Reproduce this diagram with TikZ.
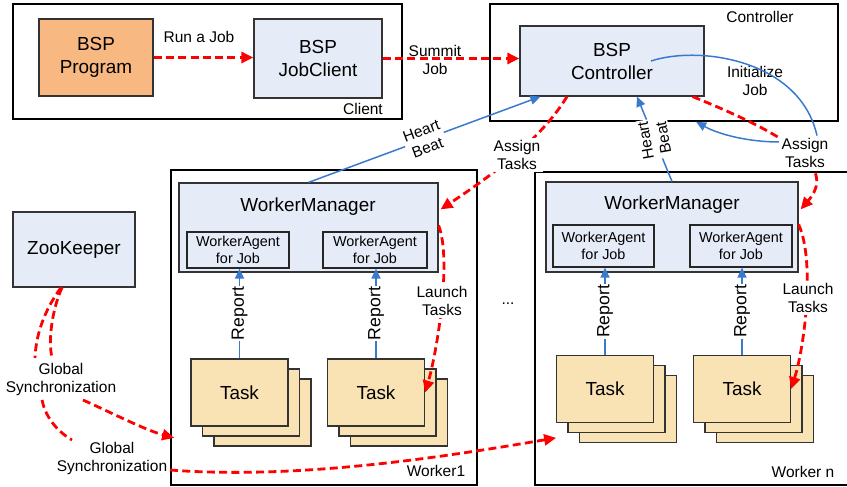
\documentclass[tikz,border=0pt]{standalone}
\usepackage{fontspec}
\setmainfont{Liberation Sans}
\usetikzlibrary{positioning, calc, arrows.meta}

\definecolor{progorange}{RGB}{247,184,130}
\definecolor{boxblue}{RGB}{230,236,247}
\definecolor{taskyellow}{RGB}{249,227,180}
\definecolor{linkblue}{RGB}{58,122,204}

\newcommand{\bigfont}{\fontsize{18.9}{23}\selectfont}
\newcommand{\lblfont}{\fontsize{15.5}{18}\selectfont}
\newcommand{\agentfont}{\fontsize{14.4}{17}\selectfont}
\newcommand{\reportfont}{\fontsize{17.7}{20}\selectfont}

\pgfdeclarelayer{front}
\pgfsetlayers{main,front}

\tikzset{
  frame/.style={draw=black, line width=1.7pt, inner sep=0pt},
  box/.style={draw=black!80, line width=1.2pt, fill=boxblue, inner sep=0pt, font=\bigfont, align=center},
  taskbox/.style={box, fill=taskyellow, minimum width=97pt, minimum height=67pt},
  agent/.style={draw=black!85, line width=1.2pt, inner sep=0pt, font=\agentfont, align=center},
  lbl/.style={font=\lblfont, align=center, inner sep=1pt},
  wlbl/.style={lbl, fill=white, inner sep=2.5pt},
  hb/.style={lbl, text=black, fill=white, inner sep=1.5pt},
  report/.style={font=\reportfont, text=black, fill=white, rotate=90, inner sep=1pt},
  redline/.style={red, line width=2.8pt, dash pattern=on 8pt off 4.3pt},
  reddash/.style={redline, -{Triangle[length=12pt, width=11pt]}},
  bluethin/.style={linkblue, line width=1.5pt},
  blueline/.style={bluethin, -{Triangle[length=10pt, width=9pt]}},
}

\begin{document}
\begin{tikzpicture}[x=1pt, y=-1pt]
\useasboundingbox (0,0) rectangle (847,487);
\clip (0,0) rectangle (847,487);

% frames
\node[frame, minimum width=389pt, minimum height=115pt] (clientframe) at (207.5,61.5) {};
\node[frame, minimum width=348pt, minimum height=117pt] (ctrlframe) at (664,62.5) {};
\node[frame, minimum width=306pt, minimum height=315pt] (w1frame) at (324,327.5) {};
\node[frame, minimum width=345pt, minimum height=313pt] (wnframe) at (707.5,328.5) {};
\node[lbl] (clientlbl) at (363,109) {Client};
\node[lbl] (ctrllbl) at (760,17) {Controller};
\node[lbl] (w1lbl) at (436,471) {Worker1};
\node[lbl] (wnlbl) at (803,472) {Worker n};

% client and controller
\node[box, fill=progorange, minimum width=114pt, minimum height=77pt] (prog) at (96,57.5) {BSP\\Program};
\node[box, minimum width=128pt, minimum height=79pt] (jobclient) at (318,58.5) {BSP\\JobClient};
\node[box, minimum width=184pt, minimum height=70pt] (bspctrl) at (612,61) {BSP\\Controller};
\node[box, minimum width=122pt, minimum height=75pt] (zoo) at (74,249.5) {ZooKeeper};

% worker managers
\node[box, minimum width=259pt, minimum height=89pt] (wm1) at (308.5,227.5) {};
\node[box, minimum width=252pt, minimum height=90pt] (wm2) at (672,227) {};
\node[font=\bigfont] (wm1t) at (308,207) {WorkerManager};
\node[font=\bigfont] (wm2t) at (672,205) {WorkerManager};
\node[agent, minimum width=102pt, minimum height=36pt] (a11) at (238,250) {WorkerAgent\\for Job};
\node[agent, minimum width=104pt, minimum height=36pt] (a12) at (375,250) {WorkerAgent\\for Job};
\node[agent, minimum width=101pt, minimum height=42pt] (a21) at (603.5,246) {WorkerAgent\\for Job};
\node[agent, minimum width=102pt, minimum height=42pt] (a22) at (741,246) {WorkerAgent\\for Job};

% task stacks
\foreach \n/\x/\y in {t1/239.5/392.5, t2/376/392.5, t3/605/389, t4/742/389} {
  \node[taskbox] at (\x+23,\y+20) {};
  \node[taskbox] at (\x+11.5,\y+10) {};
  \node[taskbox] (\n) at (\x,\y) {Task};
}

\node[lbl] (dots) at (508,304) {...};

% labels over the lines
\begin{pgfonlayer}{front}
\node[wlbl] (assign1) at (517,155) {Assign\\Tasks};
\node[wlbl] (assign2) at (805,153) {Assign\\Tasks};
\node[wlbl] (launch1) at (442,301) {Launch\\Tasks};
\node[wlbl] (launch2) at (808,298) {Launch\\Tasks};
\end{pgfonlayer}
\node[lbl] (gs1) at (61,379) {Global\\Synchronization};
\node[lbl] (gs2) at (112,458) {Global\\Synchronization};

% job submission
\draw[reddash] (prog.east) -- (prog.east -| jobclient.west);
\node[lbl] (runjob) at (199,37) {Run a Job};
\draw[reddash] (jobclient.east) -- (jobclient.east -| bspctrl.west);
\node[lbl] (summit) at (435,60) {Summit\\Job};
\node[lbl] (initjob) at (755,81) {Initialize\\Job};

% heart beats
\draw[blueline] (wm1.north) -- node[hb, sloped] {Heart\\Beat} ($(bspctrl.south west)+(21,0)$);
\draw[blueline] (wm2.north) -- node[hb, rotate=100] {Heart\\Beat} ($(bspctrl.south)+(25,0)$);

% assign tasks
\draw[reddash] ($(bspctrl.south)+(-45,0)$) .. controls (543,136) and (500,170) .. ($(wm1.north east)+(2,27)$);
\draw[reddash] ($(bspctrl.south east)+(-12,0)$) .. controls (800,140) and (835,170) .. ($(wm2.north east)+(2,28)$);

% initialize job
\draw[bluethin] ($(bspctrl.center)+(39,0)$) .. controls (700,45) and (800,60) .. ($(assign2.north)+(12,0)$);
\draw[blueline] ($(assign2.west)+(0,-11)$) .. controls (750,142) and (720,135) .. ($(ctrlframe.south west)+(207,0)$);

% launch tasks
\draw[reddash] ($(wm1.north east)+(0,43)$) .. controls (452,260) and (437,352) .. (t2.east);
\draw[reddash] ($(wm2.north east)+(0,43)$) .. controls (815,260) and (805,345) .. (t4.east);

% reports
\foreach \t/\a in {t1/a11, t2/a12, t3/a21, t4/a22}
  \draw[blueline] (\t.north) -- node[report] {Report} (\t.north |- \a.south);

% global synchronization
\draw[redline] ($(zoo.south)+(-12,0)$) .. controls (52,310) and (48,340) .. ($(gs1)+(-9,-21)$);
\draw[redline] ($(zoo.south)+(-13,0)$) .. controls (48,305) and (36,330) .. ($(gs1)+(-26,-21)$);
\draw[reddash] ($(gs1)+(22,21)$) .. controls (110,412) and (145,430) .. ($(w1frame.south west)+(4,-48)$);
\draw[redline] ($(gs1)+(-19,21)$) .. controls (45,415) and (55,430) .. ($(gs2)+(-40,-18)$);
\draw[reddash] ($(gs2)+(58,12)$) .. controls (300,480) and (450,456) .. ($(wnframe.south west)+(22,-48)$);
\end{tikzpicture}
\end{document}
